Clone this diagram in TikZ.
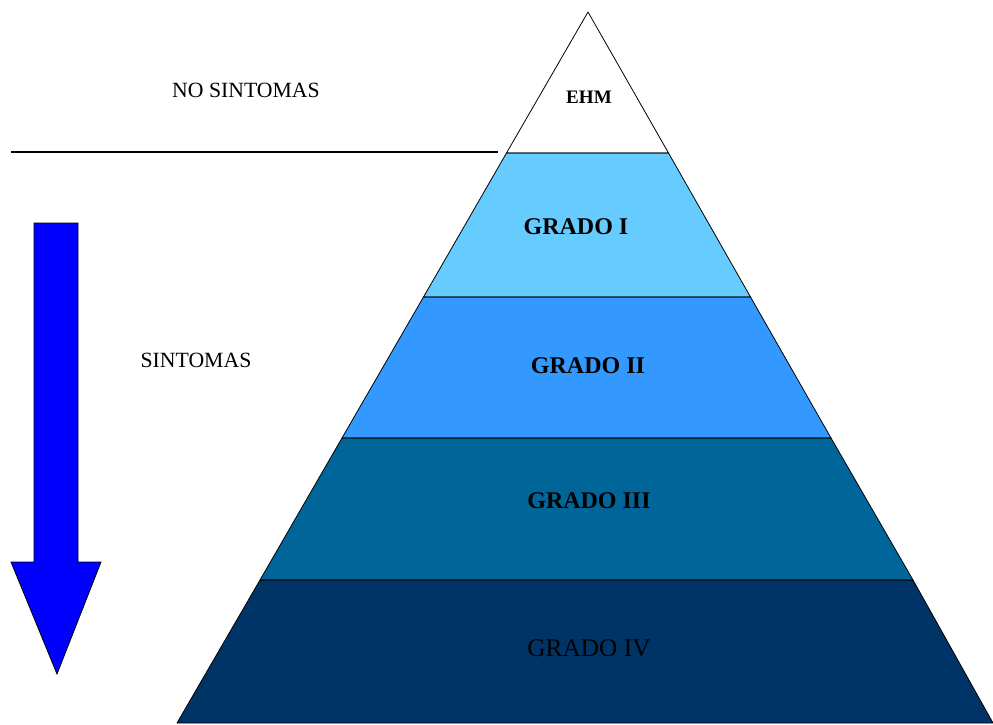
\documentclass[tikz,border=0pt]{standalone}
\usepackage{fontspec}
\setmainfont{Liberation Serif}
\definecolor{g1}{HTML}{66CCFF}
\definecolor{g2}{HTML}{3399FF}
\definecolor{g3}{HTML}{006699}
\definecolor{g4}{HTML}{003366}
\definecolor{arrowblue}{HTML}{0000FF}
\begin{document}
\begin{tikzpicture}[x=0.75pt,y=-0.75pt,
  layer/.style={draw=black,line width=0.6pt,line join=round},
  lbl/.style={font=\fontsize{18}{21}\selectfont\bfseries,text=black,inner sep=0pt},
  side/.style={font=\fontsize{16.3}{19}\selectfont,text=black,inner sep=0pt}]
\useasboundingbox (0,0) rectangle (993,725);
% pyramid apex and edges
\coordinate (A) at (588,12);
\coordinate (L1) at (506.5,153); \coordinate (R1) at (668.5,153);
\coordinate (L2) at (423.5,297); \coordinate (R2) at (750.5,297);
\coordinate (L3) at (342,438);   \coordinate (R3) at (831,438);
\coordinate (L4) at (260,580);   \coordinate (R4) at (913,580);
\coordinate (L5) at (177,723);   \coordinate (R5) at (993,723);
\fill[fill=white] (A) -- (L1) -- (R1) -- cycle;
\fill[fill=g1] (L1) -- (L2) -- (R2) -- (R1) -- cycle;
\fill[fill=g2] (L2) -- (L3) -- (R3) -- (R2) -- cycle;
\fill[fill=g3] (L3) -- (L4) -- (R4) -- (R3) -- cycle;
\fill[fill=g4] (L4) -- (L5) -- (R5) -- (R4) -- cycle;
\draw[layer] (A) -- (L1) -- (R1) -- cycle;
\draw[layer] (L1) -- (L2) -- (R2) -- (R1) -- cycle;
\draw[layer] (L2) -- (L3) -- (R3) -- (R2) -- cycle;
\draw[layer] (L3) -- (L4) -- (R4) -- (R3) -- cycle;
\draw[layer] (L4) -- (L5) -- (R5) -- (R4) -- cycle;
% labels
\node[lbl,font=\fontsize{14.3}{16}\selectfont\bfseries] (ehm) at (589,97) {EHM};
\node[lbl] (g1l) at (576,227) {GRADO I};
\node[lbl] (g2l) at (588,366) {GRADO II};
\node[lbl] (g3l) at (589,501) {GRADO III};
\node[lbl,font=\fontsize{19}{22}\selectfont] (g4l) at (589,648) {GRADO IV};
% side texts
\node[side] (nos) at (246,90) {NO SINTOMAS};
\node[side] (sin) at (196,360) {SINTOMAS};
% separator line
\coordinate (s1) at (11,152); \coordinate (s2) at (498,152);
\draw[line width=0.8pt] (s1) -- (s2);
% arrow
\coordinate (t1) at (34,223); \coordinate (t2) at (78,223);
\coordinate (h1) at (78,562); \coordinate (h2) at (101,562);
\coordinate (tip) at (57,674);
\coordinate (h3) at (11,562); \coordinate (h4) at (34,562);
\draw[fill=arrowblue,line width=0.6pt,line join=miter] (t1) -- (t2) -- (h1) -- (h2) -- (tip) -- (h3) -- (h4) -- cycle;
\end{tikzpicture}
\end{document}
